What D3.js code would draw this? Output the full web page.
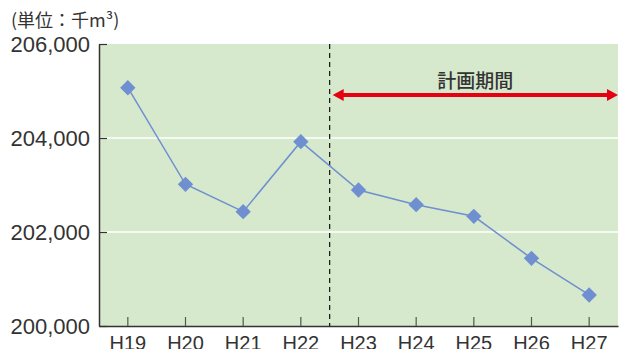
<!DOCTYPE html>
<html><head><meta charset="utf-8">
<script src="https://cdn.jsdelivr.net/npm/d3@7"></script>
<style>body{margin:0;background:#fff}svg{display:block}</style>
</head><body>
<svg id="c" width="625" height="349"></svg>
<script>
const categories = ["H19","H20","H21","H22","H23","H24","H25","H26","H27"];
const values = [205070, 203015, 202432, 203922, 202894, 202581, 202334, 201440, 200660];
const yTicks = [200000, 202000, 204000, 206000];
const unitLabel = "(単位：千m³)";
const periodLabel = "計画期間";
const periodStart = "H23";

const svg = d3.select("#c");
const L = 99, R = 618, T = 44, B = 326;
const x = d3.scaleBand().domain(categories).range([L, R]).paddingInner(0).paddingOuter(0);
const cx = d => x(d) + x.bandwidth() / 2;
const y = d3.scaleLinear().domain([200000, 206000]).range([B, T]);
const txt = "#333";
const font = "'Liberation Sans', Arial, sans-serif";

svg.append("rect").attr("x", L).attr("y", T).attr("width", R - L).attr("height", B - T).attr("fill", "#d6e9cd");

// gridlines
svg.append("g").selectAll("line").data(yTicks.filter(v => v > 200000 && v < 206000)).join("line")
  .attr("x1", L).attr("x2", R).attr("y1", d => y(d)).attr("y2", d => y(d))
  .attr("stroke", "#fff").attr("stroke-width", 1.5);

// y axis
const yAxis = svg.append("g").attr("transform", `translate(${L},0)`)
  .call(d3.axisLeft(y).tickValues(yTicks).tickSizeInner(-8).tickSizeOuter(0).tickPadding(9)
    .tickFormat(d3.format(",")));
yAxis.select(".domain").attr("stroke", txt).attr("stroke-width", 1.5);
yAxis.selectAll(".tick line").attr("stroke", txt).attr("stroke-width", 1.2);
yAxis.selectAll(".tick text").attr("fill", txt).attr("font-size", 22).attr("font-family", font);

// x axis
const xAxis = svg.append("g").attr("transform", `translate(0,${B})`)
  .call(d3.axisBottom(x).tickSizeInner(-9).tickSizeOuter(0).tickPadding(9));
xAxis.select(".domain").attr("stroke", txt).attr("stroke-width", 1.5);
xAxis.selectAll(".tick line").attr("stroke", "#555").attr("stroke-width", 1.2);
xAxis.selectAll(".tick text").attr("fill", txt).attr("font-size", 20).attr("font-family", font).attr("dy", "0.75em");

// dashed divider
const divX = x(periodStart);
svg.append("line").attr("x1", divX).attr("x2", divX).attr("y1", T).attr("y2", B)
  .attr("stroke", "#111").attr("stroke-width", 1.2).attr("stroke-dasharray", "5,4");

// line
const pts = categories.map((c, i) => [cx(c), y(values[i])]);
svg.append("path").attr("d", d3.line()(pts)).attr("fill", "none").attr("stroke", "#6f8fd0").attr("stroke-width", 1.5);
svg.append("g").selectAll("path").data(pts).join("path")
  .attr("d", d3.symbol(d3.symbolDiamond2, 150)())
  .attr("transform", d => `translate(${d[0]},${d[1]})`).attr("fill", "#6f8fd0");

// period arrow
const ay = 95, ax1 = divX + 3, ax2 = R;
svg.append("line").attr("x1", ax1 + 8).attr("x2", ax2 - 8).attr("y1", ay).attr("y2", ay)
  .attr("stroke", "#e50012").attr("stroke-width", 4);
svg.append("path").attr("d", `M${ax1},${ay} L${ax1 + 11},${ay - 6} L${ax1 + 11},${ay + 6} Z`).attr("fill", "#e50012");
svg.append("path").attr("d", `M${ax2},${ay} L${ax2 - 11},${ay - 6} L${ax2 - 11},${ay + 6} Z`).attr("fill", "#e50012");
svg.append("text").attr("x", (ax1 + ax2) / 2).attr("y", 88).attr("text-anchor", "middle")
  .attr("font-size", 19).attr("font-weight", 500).attr("font-family", "'Noto Sans CJK JP', sans-serif").attr("fill", "#333").text(periodLabel);

// unit label
svg.append("text").attr("x", 11).attr("y", 27).attr("font-size", 18)
  .attr("font-family", "'Noto Sans CJK JP', sans-serif").attr("fill", txt).text(unitLabel);
</script>
</body></html>
